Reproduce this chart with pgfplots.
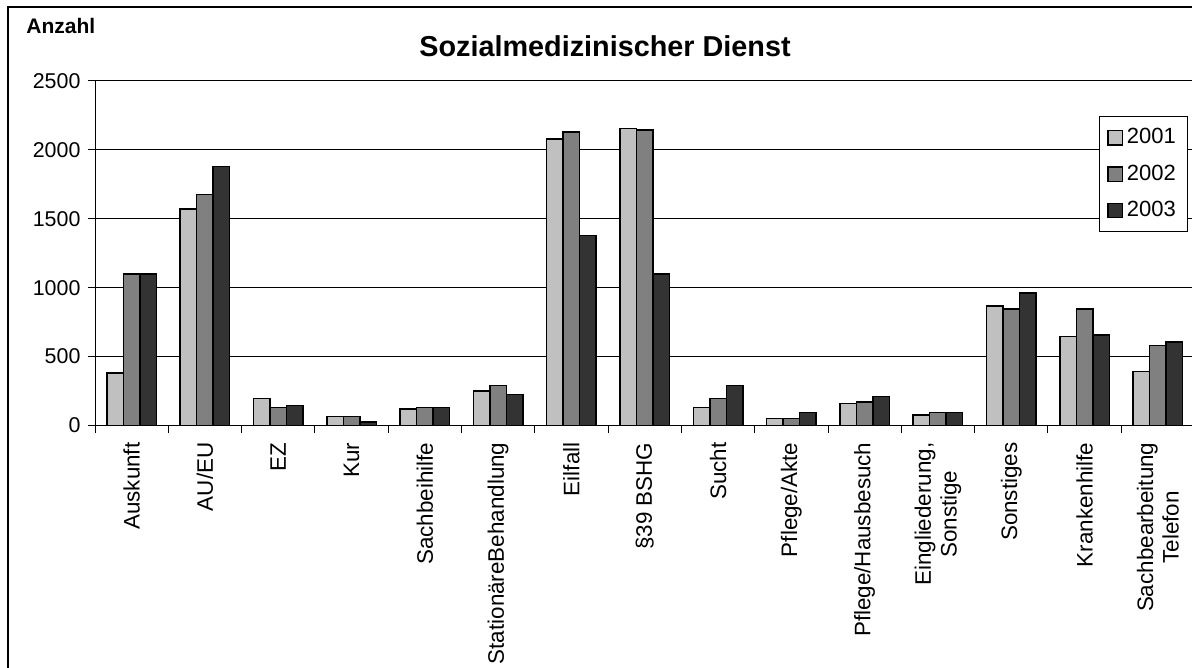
\documentclass[border=0pt]{standalone}
\usepackage{fontspec}
\setmainfont{Liberation Sans}
\usepackage{pgfplots}
\pgfplotsset{compat=1.18}
\definecolor{y2001}{RGB}{192,192,192}
\definecolor{y2002}{RGB}{128,128,128}
\definecolor{y2003}{RGB}{51,51,51}

\begin{document}
\begin{tikzpicture}[x=0.5pt,y=0.5pt]
\useasboundingbox (0,0) rectangle (1192,668);
\clip (0,0) rectangle (1192,668);
% outer chart frame
\draw[line width=1pt] (8,661) rectangle (1220,-30);
\node[font=\bfseries\fontsize{14.4}{17}\selectfont, anchor=base] at (605,611.5) {Sozialmedizinischer Dienst};
\node[font=\bfseries\fontsize{10.5}{12}\selectfont, anchor=base west, inner sep=0pt] at (26,634.7) {Anzahl};
\begin{axis}[
  at={(47.5pt,121.25pt)}, anchor=south west,
  scale only axis, width=549.75pt, height=172.25pt,
  xmin=-0.5, xmax=14.5, ymin=0, ymax=2500,
  axis x line*=bottom, axis y line*=left,
  axis line style={-, line width=0.5pt},
  tick align=outside, major tick length=3.75pt,
  tick style={black, line width=0.5pt},
  ytick={0,500,...,2500},
  ymajorgrids, major grid style={black, line width=0.5pt},
  xtick={-0.5,0.5,...,14.5}, xticklabels={},
  extra x ticks={0,...,14},
  extra x tick labels={Auskunft,AU/EU,EZ,Kur,Sachbeihilfe,StationäreBehandlung,Eilfall,§39 BSHG,Sucht,Pflege/Akte,Pflege/Hausbesuch,{Eingliederung,\\Sonstige},Sonstiges,Krankenhilfe,{Sachbearbeitung\\Telefon}},
  extra x tick style={major tick length=0pt, xticklabel shift=5pt,
    tick label style={rotate=90, anchor=east, align=center, font=\fontsize{11.2}{12.8}\selectfont}},
  tick label style={font=\fontsize{10.7}{12.5}\selectfont},
  /pgf/number format/assume math mode=true,
  /pgf/number format/1000 sep={},
  legend style={at={(0.913,0.898)}, anchor=north west, draw=black, line width=0.5pt,
    font=\fontsize{11}{13}\selectfont, row sep=5pt, inner sep=4pt},
  legend cell align=left,
  legend image code/.code={\draw[#1, line width=0.6pt] (0pt,-3.6pt) rectangle (7.2pt,3.6pt);},
]
\addplot[ybar, bar width=0.225, bar shift=-0.225, fill=y2001, draw=black, line width=0.75pt] coordinates {
 (0,380) (1,1570) (2,195) (3,65) (4,118) (5,250) (6,2080) (7,2155) (8,130) (9,52) (10,160) (11,77) (12,868) (13,645) (14,393)};
\addplot[ybar, bar width=0.225, bar shift=0, fill=y2002, draw=black, line width=0.75pt] coordinates {
 (0,1100) (1,1675) (2,130) (3,65) (4,130) (5,290) (6,2130) (7,2145) (8,195) (9,52) (10,172) (11,93) (12,844) (13,844) (14,580)};
\addplot[ybar, bar width=0.225, bar shift=0.225, fill=y2003, draw=black, line width=0.75pt] coordinates {
 (0,1100) (1,1880) (2,145) (3,27) (4,130) (5,225) (6,1380) (7,1100) (8,290) (9,93) (10,210) (11,93) (12,960) (13,655) (14,605)};
\legend{2001,2002,2003}
\end{axis}
\end{tikzpicture}
\end{document}
